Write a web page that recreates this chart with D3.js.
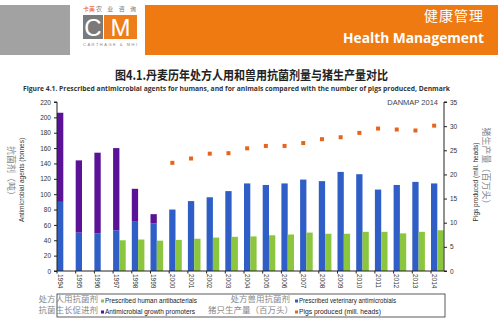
<!DOCTYPE html>
<html><head><meta charset="utf-8">
<script src="https://cdn.jsdelivr.net/npm/d3@7"></script>
<style>body{margin:0;background:#fff}svg{display:block}</style>
</head><body>
<script>
const years = ["1994","1995","1996","1997","1998","1999","2000","2001","2002","2003","2004","2005","2006","2007","2008","2009","2010","2011","2012","2013","2014"];
const vetAntimicrobials = [90,50,49,53,65,62,80,91,96,104,114,112,114,119,117,129,126,106,112,116,114];
const growthPromoters = [116,94,105,107,42,12,0,0,0,0,0,0,0,0,0,0,0,0,0,0,0];
const humanAntibacterials = [null,null,null,40,41,39.5,40.5,42,43.5,44.5,45,46.5,47.5,50,48.5,48.5,51,51,49,51,53];
const pigsProduced = [null,null,null,null,null,null,22.4,23.3,24.3,24.4,25.4,25.9,25.9,26.5,27.3,27.7,28.6,29.5,29.3,29.1,30.1];
const leftTicks = [0,20,40,60,80,100,120,140,160,180,200,220];
const rightTicks = [0,5,10,15,20,25,30,35];

const W=498,H=331;
const svg=d3.select("body").append("svg").attr("width",W).attr("height",H);
const CJK='"Noto Sans CJK SC", sans-serif';
const SANS='"Liberation Sans", Arial, sans-serif';

// header
svg.append("rect").attr("x",0).attr("y",5).attr("width",70).attr("height",50).attr("fill","#a2a2a2");
svg.append("rect").attr("x",145).attr("y",5).attr("width",353).attr("height",50).attr("fill","#ef7a12");
svg.append("text").attr("x",484).attr("y",21).attr("text-anchor","end").attr("fill","#fff")
  .style("font-family",CJK).style("font-size","14px").style("letter-spacing","1px").text("健康管理");
svg.append("text").attr("x",484).attr("y",43).attr("text-anchor","end").attr("fill","#fff")
  .style("font-family",'"Open Sans", sans-serif').style("font-weight","700").style("font-size","14px")
  .attr("textLength",141).attr("lengthAdjust","spacingAndGlyphs").text("Health Management");
// logo
const lg=svg.append("g");
lg.append("text").attr("x",83).attr("y",11).style("font-family",CJK).style("font-size","6px").attr("fill","#e2582a").text("卡美");
lg.append("text").attr("x",96).attr("y",11).style("font-family",CJK).style("font-size","6px").attr("fill","#777").attr("textLength",40).text("农业咨询");
lg.append("rect").attr("x",83).attr("y",15).attr("width",20).attr("height",24).attr("fill","#7a7a7a");
lg.append("text").attr("x",93).attr("y",36).attr("text-anchor","middle").attr("fill","#fff").style("font-family",SANS).style("font-size","24px").text("C");
lg.append("rect").attr("x",104).attr("y",15).attr("width",33).attr("height",24).attr("fill","#ee7d1c");
lg.append("text").attr("x",120.5).attr("y",36).attr("text-anchor","middle").attr("fill","#fff").style("font-family",SANS).style("font-size","24px").text("M");
lg.append("text").attr("x",83).attr("y",46).style("font-family",SANS).style("font-size","4px").attr("fill","#888").attr("textLength",54).text("CARTHAGE & MHI");

// titles
svg.append("text").attr("x",115).attr("y",80).style("font-family",CJK).style("font-weight","700").style("font-size","12.5px")
  .attr("fill","#222").attr("textLength",273).attr("lengthAdjust","spacingAndGlyphs").text("图4.1.丹麦历年处方人用和兽用抗菌剂量与猪生产量对比");
svg.append("text").attr("x",23).attr("y",91).style("font-family",'"Open Sans", sans-serif').style("font-weight","700").style("font-size","7.5px")
  .attr("fill","#333").attr("textLength",427).attr("lengthAdjust","spacingAndGlyphs").text("Figure 4.1. Prescribed antimicrobial agents for humans, and for animals compared with the number of pigs produced, Denmark");
svg.append("text").attr("x",438).attr("y",105).attr("text-anchor","end").style("font-family",SANS).style("font-size","7.5px").attr("fill","#444").text("DANMAP 2014");

// scales
const x=d3.scaleBand().domain(years).range([57,57+21*18.7]).padding(0);
const bw=x.bandwidth()*0.337;
const yL=d3.scaleLinear().domain([0,220]).range([271,102]);
const yR=d3.scaleLinear().domain([0,35]).range([271,102]);

const blue="#2f5fc6",purple="#5a1296",green="#8cc63e",orange="#e8641c";

// bars
const g=svg.append("g");
g.selectAll(".vet").data(years).join("rect").attr("x",d=>x(d)).attr("width",bw)
  .attr("y",(d,i)=>yL(vetAntimicrobials[i])).attr("height",(d,i)=>yL(0)-yL(vetAntimicrobials[i])).attr("fill",blue);
g.selectAll(".agp").data(years.filter((d,i)=>growthPromoters[i]>0)).join("rect").attr("x",d=>x(d)).attr("width",bw)
  .attr("y",d=>{const i=years.indexOf(d);return yL(vetAntimicrobials[i]+growthPromoters[i]);})
  .attr("height",d=>{const i=years.indexOf(d);return yL(vetAntimicrobials[i])-yL(vetAntimicrobials[i]+growthPromoters[i]);}).attr("fill",purple);
g.selectAll(".hum").data(years.filter((d,i)=>humanAntibacterials[i]!=null)).join("rect").attr("x",d=>x(d)+bw).attr("width",bw)
  .attr("y",d=>yL(humanAntibacterials[years.indexOf(d)])).attr("height",d=>yL(0)-yL(humanAntibacterials[years.indexOf(d)])).attr("fill",green);
g.selectAll(".pig").data(years.filter((d,i)=>pigsProduced[i]!=null)).join("rect")
  .attr("x",d=>x(d)+bw/2-2).attr("y",d=>yR(pigsProduced[years.indexOf(d)])-2).attr("width",4).attr("height",4).attr("fill",orange);

// axes
const axL=d3.axisLeft(yL).tickValues(leftTicks).tickSize(3).tickPadding(3);
const axR=d3.axisRight(yR).tickValues(rightTicks).tickSize(3).tickPadding(3);
const gl=svg.append("g").attr("transform","translate(57,0)").call(axL);
const gr=svg.append("g").attr("transform","translate(444,0)").call(axR);
[gl,gr].forEach(a=>{a.select(".domain").attr("stroke","#222");a.selectAll("line").attr("stroke","#222");
  a.selectAll("text").style("font-family",SANS).style("font-size","6.5px").attr("fill","#333");});
gl.select(".domain").attr("d","M-3,102H0V271H-3");
gr.select(".domain").attr("d","M3,102H0V271H3");

const xa=svg.append("g").attr("transform","translate(0,271)");
xa.append("line").attr("x1",57).attr("x2",444).attr("stroke","#222");
xa.selectAll(".tk").data(years).join("line").attr("x1",d=>x(d)).attr("x2",d=>x(d)).attr("y1",0).attr("y2",2.5).attr("stroke","#222");
xa.selectAll(".lb").data(years).join("text").attr("transform",d=>`translate(${x(d)+bw/2-2.3},3) rotate(90)`)
  .style("font-family",SANS).style("font-size","6.5px").attr("fill","#333").text(d=>d);

// axis titles
svg.append("text").attr("transform","translate(8,173) rotate(90)").attr("text-anchor","middle").style("font-family",CJK).style("font-size","9px").attr("fill","#888").text("抗菌剂（吨）");
svg.append("text").attr("transform","translate(24,180) rotate(-90)").attr("text-anchor","middle").style("font-family",SANS).style("font-size","6.5px").attr("fill","#333").text("Antimicrobial agents (tonnes)");
svg.append("text").attr("transform","translate(478,182) rotate(-90)").attr("text-anchor","middle").style("font-family",SANS).style("font-size","6.5px").attr("fill","#333").text("Pigs produced (mill. heads)");
svg.append("text").attr("transform","translate(483,168) rotate(90)").attr("text-anchor","middle").style("font-family",CJK).style("font-size","9px").attr("fill","#888").text("猪生产量（百万头）");

// legend
svg.append("rect").attr("x",57).attr("y",294).attr("width",388).attr("height",23).attr("fill","none").attr("stroke","#333").attr("stroke-width",0.8);
const legendCn=[["处方人用抗菌剂",98,302],["抗菌生长促进剂",98,313],["处方兽用抗菌剂",290,302],["猪只生产量（百万头）",293,313]];
svg.selectAll(".lcn").data(legendCn).join("text").attr("x",d=>d[1]).attr("y",d=>d[2]).attr("text-anchor","end")
  .style("font-family",CJK).style("font-size","8.5px").attr("fill","#888").text(d=>d[0]);
const legendItems=[["Prescribed human antibacterials",green,101,301,92],["Antimicrobial growth promoters",purple,101,312,90],["Prescribed veterinary antimicrobials",blue,295,301,97],["Pigs produced (mill. heads)",orange,295,312,82]];
legendItems.forEach(d=>{
  svg.append("rect").attr("x",d[2]).attr("y",d[3]-1.5).attr("width",3).attr("height",3).attr("fill",d[1]);
  svg.append("text").attr("x",d[2]+4).attr("y",d[3]+2.3).style("font-family",SANS).style("font-size","6.5px").attr("fill","#222")
    .attr("textLength",d[4]).attr("lengthAdjust","spacingAndGlyphs").text(d[0]);
});
</script>
</body></html>
